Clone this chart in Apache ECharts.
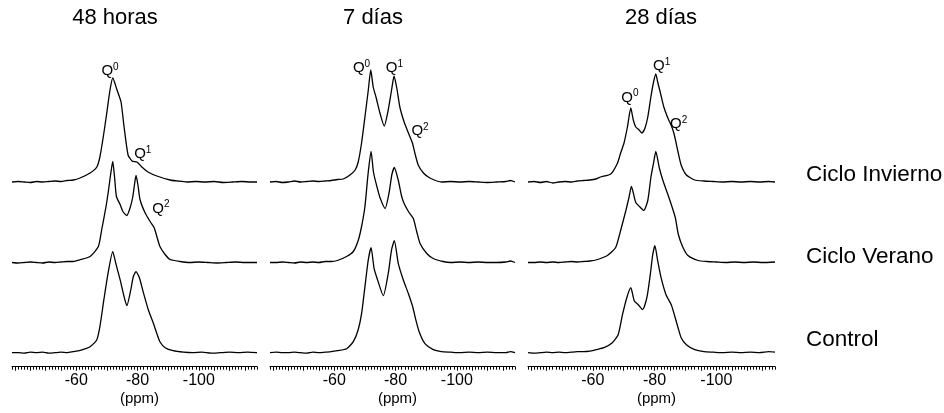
<!DOCTYPE html>
<html><head><meta charset="utf-8">
<script src="https://cdn.jsdelivr.net/npm/echarts@6/dist/echarts.min.js"></script>
<style>html,body{margin:0;padding:0;background:#fff}#c{width:944px;height:413px}</style>
</head><body><div id="c"></div>
<script>
// ---------- data (ppm, intensity a.u.) ----------
const panelTitles = ['48 horas', '7 días', '28 días'];
const traceNames = ['Ciclo Invierno', 'Ciclo Verano', 'Control'];
const xTickLabels = [-60, -80, -100];
const xMajorTicks = [-40, -45, -50, -55, -60, -65, -70, -75, -80, -85, -90, -95, -100, -105, -110, -115];
const xMinorTicks = [-39,-40,-41,-42,-43,-44,-45,-46,-47,-48,-49,-50,-51,-52,-53,-54,-55,-56,-57,-58,-59,-60,
  -61,-62,-63,-64,-65,-66,-67,-68,-69,-70,-71,-72,-73,-74,-75,-76,-77,-78,-79,-80,-81,-82,-83,-84,-85,-86,-87,-88,-89,-90,
  -91,-92,-93,-94,-95,-96,-97,-98,-99,-100,-101,-102,-103,-104,-105,-106,-107,-108,-109,-110,-111,-112,-113,-114,-115,-116,-117,-118,-119];
const ppmRange = [-119, -39];

const p48_invierno = [[-39,0],[-41,0.5],[-43,0],[-45,-0.5],[-47,0.5],[-49,0],[-51,0.5],[-53,1],[-55,0.5],[-57,1.5],[-59,2],
 [-61.2,4],[-64.5,9],[-66.7,15],[-67.7,25],[-68.8,45],[-69.9,68],[-71.0,92],[-71.9,104],[-73.3,92],[-74.6,80],[-75.6,55],[-76.9,27],[-78.2,21],[-79.8,20],[-81.4,15],[-83.4,10],[-86.3,6],[-90.6,2],[-93,1],[-96.1,0],[-99,0.5],[-102,0],[-105,0.5],[-108,-0.5],[-111,0],[-114,0.5],[-117,0],[-119,0]];
const p48_verano = [[-39,0],[-41,-0.5],[-43,0],[-45,0.5],[-47,0],[-49,-0.5],[-51,0.5],[-53,0],[-55,0.5],[-57,1],[-59,1],[-61,2.5],
 [-64.5,6],[-67.2,16],[-68.3,33],[-69.7,56],[-70.5,72],[-71.2,88],[-71.9,101],[-72.5,85],[-73.1,66],[-74.3,58],[-75.2,51],[-76.5,47],[-77.5,54],[-78.4,65],[-79.0,78],[-79.5,87],[-80.1,78],[-80.8,63],[-82.4,50],[-84.1,41],[-85.4,35],[-86.3,26],[-87.3,16],[-89.0,8],[-90.6,3],[-93.9,1],[-97,0],[-100,0.5],[-103,0],[-106,-0.5],[-109,0],[-112,0.5],[-115,0],[-119,0]];
const p48_control = [[-39,0],[-41,0],[-43,-0.5],[-45,0.5],[-47,0],[-49,0.5],[-51,-0.5],[-53,0],[-55,0.5],[-57,0],[-59,1],[-61,2],[-63,4],
 [-64.5,6],[-66.7,13],[-67.7,26],[-69.0,53],[-70.4,80],[-71.9,101],[-73.0,88],[-74.3,73],[-75.6,56],[-76.5,47],[-77.8,63],[-78.6,76],[-79.5,81],[-80.6,75],[-81.9,60],[-83.5,43],[-85.1,30],[-86.2,20],[-87.3,11],[-89.0,5],[-91.6,2],[-95,0.5],[-98,0],[-101,0.5],[-104,-0.5],[-107,0],[-110,0.5],[-113,0],[-116,0.5],[-119,0]];

const d7_invierno = [[-39,0],[-41,0.5],[-43,-0.5],[-45,0],[-47,1],[-49,0],[-51,0.5],[-53,1],[-55,0.5],[-57,1],[-59,1.5],[-61,2.5],[-62.9,3],
 [-65.1,7],[-66.8,12],[-67.8,20],[-68.9,39],[-70.0,65],[-71.1,92],[-71.9,112],[-72.7,95],[-73.6,85],[-74.9,69],[-76.3,56],[-77.6,72],[-78.7,92],[-79.5,106],[-80.4,94],[-81.4,75],[-82.8,60],[-84.2,49],[-85.5,39],[-86.3,29],[-87.4,17],[-89.1,9],[-91.2,4],[-95.1,0],[-98,0.5],[-101,0],[-104,0.5],[-107,0],[-110,-0.5],[-113,0],[-116,0.5],[-117.5,1.5],[-119,0]];
const d7_verano = [[-39,0],[-41,0],[-43,0.5],[-45,0],[-47,-0.5],[-49,0.5],[-51,0],[-53,0.5],[-55,0],[-57,1],[-59,1],[-61,2],
 [-64.0,6],[-66.2,11],[-67.8,22],[-68.9,36],[-70.0,56],[-71.0,88],[-72.0,111],[-72.8,90],[-73.9,76],[-74.9,65],[-76.6,54],[-77.9,70],[-78.8,88],[-79.6,95],[-80.9,82],[-82.0,66],[-82.8,59],[-84.2,51],[-85.8,44],[-86.9,31],[-88.0,19],[-90.2,9],[-92.3,4],[-95.5,1],[-98,0],[-101,0.5],[-104,0],[-107,0.5],[-110,0],[-113,0],[-116,0.5],[-117.5,1.5],[-119,0]];
const d7_control = [[-39,0],[-41,0.5],[-43,0],[-45,0],[-47,0.5],[-49,0],[-51,-0.5],[-53,0.5],[-55,0],[-57,0.5],[-59,1],[-61,2],
 [-64.0,4],[-66.2,11],[-67.8,23],[-68.9,39],[-70.0,66],[-71.1,93],[-72.0,105],[-73.0,84],[-74.0,74],[-76.0,57],[-77.6,79],[-78.7,103],[-79.6,112],[-80.9,89],[-82.5,73],[-84.2,59],[-85.6,46],[-86.6,33],[-87.7,21],[-89.6,9],[-92.3,3],[-95,1],[-98,0.5],[-101,0],[-104,0.5],[-107,0],[-110,0.5],[-113,0],[-116,0],[-117.5,1],[-119,0]];

const d28_invierno = [[-39,0],[-41,0.5],[-43,-0.5],[-45,0.5],[-47,-1],[-49,0],[-51,0.5],[-53,0],[-55,1],[-57,1.5],[-59,2],[-61,3],
 [-62.5,5],[-65.8,8],[-68.0,19],[-69.0,29],[-70.1,39],[-71.2,55],[-72.3,74],[-73.1,62],[-73.9,55],[-75.0,52],[-75.9,49],[-76.9,54],[-77.8,65],[-78.8,85],[-79.6,99],[-80.4,108],[-81.0,100],[-81.9,89],[-83.0,75],[-84.3,64],[-85.6,55],[-86.4,47],[-87.6,30],[-88.6,17],[-90.3,7],[-93.0,2],[-96,1],[-99,0.5],[-102,0],[-105,0.5],[-108,0],[-111,0.5],[-114,0],[-117,0.5],[-119,0]];
const d28_verano = [[-39,0],[-41,0],[-43,0.5],[-45,0],[-47,0.5],[-49,0],[-51,0.5],[-53,1],[-55,0.5],[-57,1],[-59,1.5],[-61,2.5],
 [-64.7,7],[-67.4,15],[-69.0,32],[-70.7,52],[-71.7,65],[-72.5,76],[-73.9,60],[-75.1,56],[-76.5,52],[-77.8,62],[-78.8,85],[-79.7,100],[-80.4,111],[-81.5,95],[-82.7,82],[-84.3,68],[-85.4,58],[-86.7,45],[-87.7,28],[-89.2,15],[-90.8,7],[-94.1,2],[-97,1],[-100,0.5],[-103,0],[-106,0.5],[-109,0],[-112,0.5],[-115,0],[-119,0.5]];
const d28_control = [[-39,0],[-41,-0.5],[-43,0],[-45,0.5],[-47,0],[-49,0.5],[-51,0],[-53,0.5],[-55,1],[-57,1],[-59,1.5],[-61,3],
 [-63.6,5],[-66.3,10],[-68.2,18],[-69.6,38],[-71.0,55],[-72.3,65],[-73.4,52],[-74.7,48],[-76.1,43],[-77.5,55],[-78.6,78],[-79.4,98],[-80.1,107],[-81.0,92],[-82.1,75],[-83.7,58],[-85.4,48],[-86.4,38],[-87.6,25],[-88.6,15],[-90.3,8],[-93.0,3],[-96,1],[-99,0.5],[-102,0],[-105,0.5],[-108,0],[-111,0.5],[-114,0],[-117,1],[-119,0.5]];

// peak labels: [superscript, trace index, ppm, intensity]
const q48 = [['0',0,-71.0,111],['1',0,-81.7,28],['2',1,-87.6,54]];
const q7  = [['0',0,-68.9,114],['1',0,-79.6,114],['2',0,-88.0,51]];
const q28 = [['0',0,-72.0,84.5],['1',0,-82.3,116],['2',0,-87.8,58]];

// ---------- layout ----------
const FONT = '"Liberation Sans", Arial, Helvetica, sans-serif';
const panels = [
  {traces: [p48_invierno, p48_verano, p48_control], q: q48},
  {traces: [d7_invierno, d7_verano, d7_control], q: q7},
  {traces: [d28_invierno, d28_verano, d28_control], q: q28}
];
const panelLeft = [12, 270, 528];
const panelWidth = [245, 245, 247];
const titleX = [115, 373, 661];
const baselines = [182, 262.5, 352.7];
const Y_MIN = -14, Y_MAX = 146;
const GRID_H = Y_MAX - Y_MIN; // 1 unit = 1px
const rowLabelY = [175, 257, 340];

const grid = [], xAxis = [], yAxis = [], series = [];
panels.forEach((pn, p) => {
  for (let r = 0; r < 3; r++) {
    const gi = p * 3 + r;
    grid.push({left: panelLeft[p], width: panelWidth[p], top: baselines[r] - Y_MAX, height: GRID_H});
    const isBottom = r === 2;
    xAxis.push({
      gridIndex: gi, type: 'value', min: ppmRange[0], max: ppmRange[1], inverse: true, position: 'bottom',
      show: isBottom,
      axisLine: {show: true, onZero: false, lineStyle: {color: '#000', width: 1}},
      axisTick: {show: true, length: 3, inside: false, customValues: xMinorTicks, lineStyle: {color: '#000', width: 1}},
      axisLabel: {show: false}, splitLine: {show: false}
    });
    yAxis.push({gridIndex: gi, type: 'value', min: Y_MIN, max: Y_MAX, show: false, splitLine: {show: false}});
    const qs = pn.q.filter(q => q[1] === r);
    series.push({
      name: traceNames[r] + ' ' + panelTitles[p],
      type: 'line', xAxisIndex: gi, yAxisIndex: gi, data: pn.traces[r],
      showSymbol: false, symbol: 'none', smooth: 0.2, clip: false, silent: true,
      lineStyle: {color: '#000', width: 1.3},
      markPoint: qs.length ? {
        symbol: 'circle', symbolSize: 1, itemStyle: {color: 'rgba(0,0,0,0)'}, silent: true,
        label: {show: true, position: 'inside', color: '#000',
          rich: {q: {fontSize: 15, lineHeight: 18, fontFamily: FONT, color: '#000'},
                 s: {fontSize: 10, verticalAlign: 'top', fontFamily: FONT, color: '#000'}}},
        data: qs.map(q => ({coord: [q[2], q[3]], label: {formatter: '{q|Q}{s|' + q[0] + '}'}}))
      } : undefined
    });
  }
});
// major ticks, tick labels and axis name for each bottom axis
panels.forEach((pn, p) => {
  xAxis.push({
    gridIndex: p * 3 + 2, type: 'value', min: ppmRange[0], max: ppmRange[1], inverse: true, position: 'bottom',
    axisLine: {show: false, onZero: false},
    axisTick: {show: true, length: 4, customValues: xMajorTicks, lineStyle: {color: '#000', width: 1}},
    axisLabel: {show: true, customValues: xTickLabels, margin: 6, fontSize: 16, fontFamily: FONT, color: '#000'},
    splitLine: {show: false},
    name: '(ppm)', nameLocation: 'middle', nameGap: 25,
    nameTextStyle: {fontSize: 15, fontFamily: FONT, color: '#000', padding: [0, 0, 0, 10]}
  });
});

const graphic = [];
panelTitles.forEach((t, p) => graphic.push({type: 'text', x: titleX[p], y: 18,
  style: {text: t, font: '22px ' + FONT, fill: '#000', textAlign: 'center', textVerticalAlign: 'middle'}}));
traceNames.forEach((t, r) => graphic.push({type: 'text', x: 806, y: rowLabelY[r],
  style: {text: t, font: '22.5px ' + FONT, fill: '#000', textAlign: 'left', textVerticalAlign: 'middle'}}));

const chart = echarts.init(document.getElementById('c'), null, {renderer: 'canvas'});
chart.setOption({animation: false, backgroundColor: '#fff', grid, xAxis, yAxis, series, graphic});
</script></body></html>
